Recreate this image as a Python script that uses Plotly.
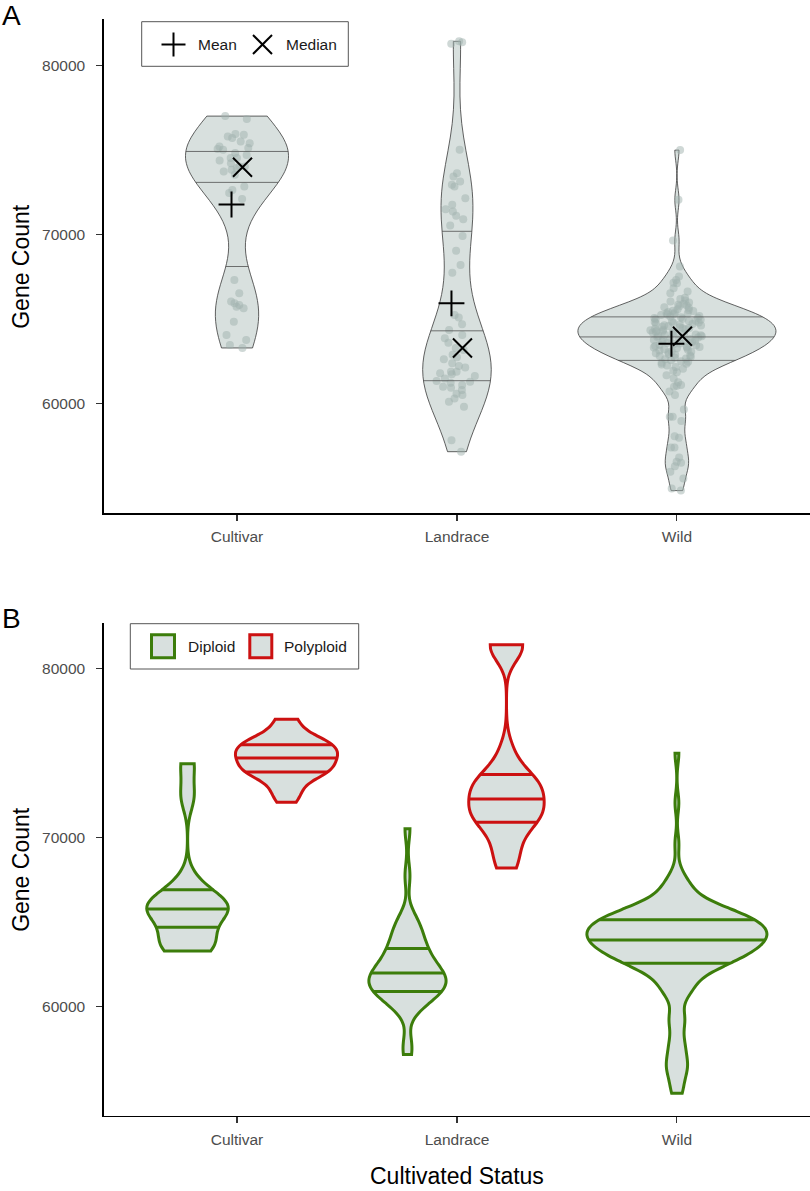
import numpy as np
import plotly.graph_objects as go

# ---------------- data ----------------
categories = ["Cultivar", "Landrace", "Wild"]

cultivar_diploid = [74370, 72450, 67320, 66530, 66040, 65940, 65840, 65740, 65640,
                    64850, 64070, 63770, 63470, 63300]
cultivar_polyploid = [77000, 76830, 75940, 75900, 75800, 75700, 75500, 75400, 75210,
                      75110, 75050, 75010, 74820, 74700, 74520, 74520, 74220, 74020,
                      74020, 73930, 73830, 73730, 73530, 72840, 72640, 72100]

landrace_diploid = [70530, 67750, 65250, 65100, 64700, 64360, 64070, 63870, 63610,
                    63300, 63180, 62900, 62750, 62630, 62400, 62230, 62150, 61900,
                    61890, 61800, 61750, 61640, 61500, 61350, 61300, 61240, 61110,
                    61010, 60950, 60810, 60600, 60520, 60320, 60120, 59820, 57850, 57170]
landrace_polyploid = [81420, 81360, 81280, 75010, 73630, 73430, 73140, 72940, 72840,
                      72150, 71760, 71500, 71360, 71110, 70910, 69920, 69050, 68200]

wild_diploid = [
    74990, 72050, 69650, 68110, 67520, 67320, 67160, 67120, 66830, 66630, 66530,
    66270, 66190, 66110, 66040, 65980, 65910, 65860, 65810,
    65760, 65710, 65670, 65590, 65540, 65500, 65480, 65420, 65390, 65350, 65330, 65300,
    65270, 65240, 65190, 65160, 65120, 65080, 65070, 65030, 64990, 64960, 64910, 64890,
    64860, 64830, 64810,
    64770, 64740, 64710, 64680, 64640, 64620, 64590, 64550, 64520, 64480, 64460, 64430,
    64400, 64370, 64340, 64310,
    64290, 64260, 64230, 64210, 64170, 64140, 64100, 64080, 64050, 64010, 63990, 63950,
    63920, 63880, 63860, 63830, 63800,
    63770, 63730, 63700, 63680, 63640, 63600, 63570, 63530, 63490, 63460, 63420, 63390,
    63360, 63330, 63310,
    63280, 63230, 63200, 63150, 63110, 63080, 63040, 62990, 62950, 62900, 62860, 62820,
    62780, 62720, 62670, 62630, 62580, 62520, 62480, 62420, 62370, 62320,
    62260, 62180, 62070, 61950, 61860,
    61680, 61500, 61280, 61060,
    61110, 61010, 60720, 60520, 59670, 59230, 59230, 58980, 58090, 57990, 57420, 57420,
    56830, 56570, 56510, 56310, 55980, 55590, 55000, 54870]

y_ticks = [60000, 70000, 80000]
legend_a_labels = ["Mean", "Median"]
legend_b_labels = ["Diploid", "Polyploid"]

# ---------------- style ----------------
W, H = 810, 1191
FONT = "Liberation Sans, Arial, Helvetica, sans-serif"
FILL = "#d8e0de"
PT_COLOR = "rgba(160,178,173,0.5)"
OUT_A = "#3a3a3a"
GREEN = "#3c7d0b"
RED = "#cc1111"
TICK_COLOR = "#4d4d4d"
YRANGE = [53530, 82720]
XRANGE = [-0.607, 2.605]


def px_x(px):
    return px / W


def px_y(py):
    return 1 - py / H


def bw_nrd0(v):
    v = np.asarray(v, float)
    sd = v.std(ddof=1)
    iqr = np.percentile(v, 75) - np.percentile(v, 25)
    lo = min(sd, iqr / 1.34)
    return 0.9 * lo * len(v) ** -0.2


def kde(v, bw, t):
    v = np.asarray(v, float)
    t = np.atleast_1d(np.asarray(t, float))
    z = (t[:, None] - v[None, :]) / bw
    return np.exp(-0.5 * z * z).sum(1) / (len(v) * bw * np.sqrt(2 * np.pi))


def quartile_segments(v, pos, width):
    bw = bw_nrd0(v)
    lo, hi = min(v), max(v)
    dist = hi - lo
    n = int(np.ceil(dist / (bw / 3)))
    tp = lo + np.arange(n + 1) * dist / n
    maxk = kde(v, bw, tp).max()
    grid = np.linspace(lo, hi, 512)
    d = kde(v, bw, grid)
    cdf = np.cumsum(d) / d.sum()
    ys = np.interp([0.25, 0.5, 0.75], cdf, grid)
    hw = kde(v, bw, ys) / maxk * width / 2
    xs, yy = [], []
    for y, h in zip(ys, hw):
        xs += [pos - h, pos + h, None]
        yy += [y, y, None]
    return xs, yy


fig = go.Figure()

# ---------------- panel A ----------------
groups_a = [cultivar_diploid + cultivar_polyploid,
            landrace_diploid + landrace_polyploid,
            wild_diploid]
widths_a = [0.468, 0.312, 0.9]
jitter_a = [0.42, 0.61, 0.27]

qx, qy = [], []
for i, vals in enumerate(groups_a):
    fig.add_trace(go.Violin(
        y=vals, x0=i, width=widths_a[i], bandwidth=bw_nrd0(vals), spanmode="hard",
        fillcolor=FILL, line=dict(color=OUT_A, width=0.8),
        points="all", jitter=jitter_a[i], pointpos=0,
        marker=dict(size=8, color=PT_COLOR, line=dict(width=0)),
        box_visible=False, meanline_visible=False, showlegend=False,
        hoverinfo="skip", xaxis="x", yaxis="y", name=categories[i]))
    sx, sy = quartile_segments(vals, i, widths_a[i])
    qx += sx
    qy += sy

fig.add_trace(go.Scatter(x=qx, y=qy, mode="lines", line=dict(color="#505050", width=0.8),
                         showlegend=False, hoverinfo="skip", xaxis="x", yaxis="y"))

means = [float(np.mean(v)) for v in groups_a]
medians = [float(np.median(v)) for v in groups_a]
fig.add_trace(go.Scatter(
    x=[i - 0.025 for i in range(3)], y=means, mode="markers", name=legend_a_labels[0],
    marker=dict(symbol="cross-thin", size=18.5, color="black", line=dict(color="black", width=2)),
    showlegend=False, xaxis="x", yaxis="y"))
fig.add_trace(go.Scatter(
    x=[i + 0.025 for i in range(3)], y=medians, mode="markers", name=legend_a_labels[1],
    marker=dict(symbol="x-thin", size=19, color="black", line=dict(color="black", width=2)),
    showlegend=False, xaxis="x", yaxis="y"))

# ---------------- panel B ----------------
groups_b = [
    (cultivar_diploid, -0.225, 0.371, GREEN),
    (cultivar_polyploid, 0.225, 0.464, RED),
    (landrace_diploid, 1 - 0.225, 0.35, GREEN),
    (landrace_polyploid, 1 + 0.225, 0.343, RED),
    (wild_diploid, 2.0, 0.818, GREEN),
]
for vals, pos, wid, col in groups_b:
    fig.add_trace(go.Violin(
        y=vals, x0=pos, width=wid, bandwidth=bw_nrd0(vals), spanmode="hard",
        fillcolor=FILL, line=dict(color=col, width=3),
        points=False, box_visible=False, meanline_visible=False, showlegend=False,
        hoverinfo="skip", xaxis="x2", yaxis="y2"))
for col in (GREEN, RED):
    qx, qy = [], []
    for vals, pos, wid, c in groups_b:
        if c != col:
            continue
        sx, sy = quartile_segments(vals, pos, wid)
        qx += sx
        qy += sy
    fig.add_trace(go.Scatter(x=qx, y=qy, mode="lines", line=dict(color=col, width=3),
                             showlegend=False, hoverinfo="skip", xaxis="x2", yaxis="y2"))

# ---------------- axes ----------------
xdom = [px_x(103.5), 1.0]
ydom_a = [px_y(513.3), px_y(19.3)]
ydom_b = [px_y(1116.0), px_y(622.7)]

common_x = dict(type="linear", range=XRANGE, tickvals=[0, 1, 2], ticktext=categories,
                showline=True, linecolor="black", linewidth=1.2, ticks="outside",
                ticklen=6, tickwidth=1.1, tickcolor="#333333", showgrid=False,
                zeroline=False, tickfont=dict(family=FONT, size=15.5, color=TICK_COLOR),
                ticklabelstandoff=3, domain=xdom, fixedrange=True)
common_y = dict(type="linear", range=YRANGE, tickvals=y_ticks, tickformat="d",
                showline=True, linecolor="black", linewidth=1.2, ticks="outside",
                ticklen=6, tickwidth=1.1, tickcolor="#333333", showgrid=False,
                zeroline=False, tickfont=dict(family=FONT, size=15.5, color=TICK_COLOR),
                ticklabelstandoff=8, fixedrange=True)

fig.update_layout(
    width=W, height=H, margin=dict(l=0, r=0, t=0, b=0),
    paper_bgcolor="white", plot_bgcolor="white",
    font=dict(family=FONT, color="black"),
    violinmode="overlay", showlegend=False,
    xaxis=dict(common_x, anchor="y"),
    yaxis=dict(common_y, domain=ydom_a, anchor="x"),
    xaxis2=dict(common_x, anchor="y2"),
    yaxis2=dict(common_y, domain=ydom_b, anchor="x2"),
)

# ---------------- titles / labels ----------------
ann = []
for lab, cy in (("A", 15.5), ("B", 618)):
    ann.append(dict(text=lab, x=px_x(0), y=px_y(cy), xref="paper", yref="paper",
                    xanchor="left", yanchor="middle", showarrow=False,
                    font=dict(family=FONT, size=28, color="black")))
for cy in ((19.3 + 513.3) / 2, (622.7 + 1116) / 2):
    ann.append(dict(text="Gene Count", x=px_x(21.5), y=px_y(cy), xref="paper", yref="paper",
                    xanchor="center", yanchor="middle", textangle=-90, showarrow=False,
                    font=dict(family=FONT, size=23, color="black")))
ann.append(dict(text="Cultivated Status", x=px_x(456.7), y=px_y(1175.6), xref="paper",
                yref="paper", xanchor="center", yanchor="middle", showarrow=False,
                font=dict(family=FONT, size=23, color="black")))

# legends (drawn by hand to match the reference key sizes)
leg_font = dict(family=FONT, size=15.5, color="#1a1a1a")
for lab, lx, ly in ((legend_a_labels[0], 195.7, 44.5), (legend_a_labels[1], 284.3, 44.5),
                    (legend_b_labels[0], 185.7, 646.5), (legend_b_labels[1], 282.3, 646.5)):
    ann.append(dict(text=lab, x=px_x(lx), y=px_y(ly), xref="paper", yref="paper",
                    xanchor="left", yanchor="middle", showarrow=False, font=leg_font))

shapes = []


def rect(x0, y0, x1, y1, line_color, line_width, fill="rgba(0,0,0,0)"):
    return dict(type="rect", xref="paper", yref="paper", x0=px_x(x0), x1=px_x(x1),
                y0=px_y(y1), y1=px_y(y0), line=dict(color=line_color, width=line_width),
                fillcolor=fill, layer="above")


def seg(x0, y0, x1, y1, color="black", width=2):
    return dict(type="line", xref="paper", yref="paper", x0=px_x(x0), x1=px_x(x1),
                y0=px_y(y0), y1=px_y(y1), line=dict(color=color, width=width), layer="above")


shapes.append(rect(141.7, 21.7, 348.3, 66.3, "#555555", 1))
shapes.append(seg(161.5, 44.5, 185.5, 44.5))
shapes.append(seg(173.5, 32.5, 173.5, 56.5))
shapes.append(seg(253.0, 35.0, 272.0, 54.0))
shapes.append(seg(253.0, 54.0, 272.0, 35.0))

shapes.append(rect(130.3, 623.7, 358.7, 669.0, "#555555", 1))
shapes.append(rect(151.5, 634.8, 174.5, 657.8, GREEN, 3, FILL))
shapes.append(rect(249.8, 634.8, 271.8, 657.8, RED, 3, FILL))

fig.update_layout(annotations=ann, shapes=shapes)

# remove the browser's default 8px body margin so the figure fills the window exactly
fig.write_html("out.html",
               config={"displayModeBar": False, "staticPlot": True},
               post_script="document.body.style.margin='0px';"
                           "document.documentElement.style.overflow='hidden';")
